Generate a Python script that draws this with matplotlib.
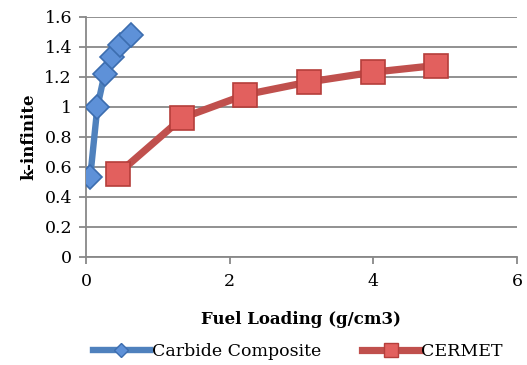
import matplotlib
matplotlib.use("Agg")
import matplotlib.pyplot as plt
from matplotlib.lines import Line2D

carbide_x = [0.06, 0.16, 0.26, 0.37, 0.48, 0.63]
carbide_y = [0.53, 1.00, 1.22, 1.33, 1.41, 1.48]
cermet_x = [0.44, 1.34, 2.22, 3.10, 3.99, 4.87]
cermet_y = [0.55, 0.925, 1.08, 1.165, 1.23, 1.275]
x_ticks = [0, 2, 4, 6]
y_ticks = [0, 0.2, 0.4, 0.6, 0.8, 1, 1.2, 1.4, 1.6]
y_tick_labels = ["0", "0.2", "0.4", "0.6", "0.8", "1", "1.2", "1.4", "1.6"]

plt.rcParams['font.family'] = ['DejaVu Serif']

fig = plt.figure(figsize=(5.27, 3.65), dpi=100)
ax = fig.add_axes([0.163, 0.297, 0.818, 0.657])

blue_line = '#4F81BD'
blue_face = '#5E91D8'
blue_edge = '#3C6DAF'
red_line = '#C0504D'
red_face = '#E2605E'
red_edge = '#B53E3B'

ax.plot(cermet_x, cermet_y, color=red_line, lw=5.2, solid_capstyle='round',
        marker='s', ms=17, mfc=red_face, mec=red_edge, mew=1.2, zorder=3,
        label='CERMET')
ax.plot(carbide_x, carbide_y, color=blue_line, lw=4.6, solid_capstyle='round',
        marker='D', ms=12, mfc=blue_face, mec=blue_edge, mew=1.2, zorder=4,
        label='Carbide Composite')

ax.set_xlim(0, 6)
ax.set_ylim(0, 1.6)
ax.set_xticks(x_ticks)
ax.set_yticks(y_ticks)
ax.set_yticklabels(y_tick_labels)
ax.grid(axis='y', color='#888888', lw=1.3)
ax.set_axisbelow(True)
for s in ['top', 'right']:
    ax.spines[s].set_visible(False)
for s in ['left', 'bottom']:
    ax.spines[s].set_color('#888888')
    ax.spines[s].set_linewidth(1.3)
ax.tick_params(axis='both', colors='#888888', length=5, width=1.3,
               labelsize=12.5, labelcolor='black', direction='out')
ax.tick_params(axis='x', pad=7)
ax.tick_params(axis='y', pad=5)

ax.set_xlabel('Fuel Loading (g/cm3)', fontsize=12, fontweight='bold', labelpad=15)
ax.set_ylabel('k-infinite', fontsize=12, fontweight='bold', labelpad=5)

handles = [
    Line2D([], [], color=blue_line, lw=4.6, marker='D', ms=7, mfc=blue_face, mec=blue_edge),
    Line2D([], [], color=red_line, lw=5.2, marker='s', ms=10, mfc=red_face, mec=red_edge),
]
fig.legend(handles, ['Carbide Composite', 'CERMET'], loc='center',
           bbox_to_anchor=(0.565, 0.036), ncol=2, frameon=False, fontsize=12.5,
           handlelength=3.3, handletextpad=0.1, columnspacing=2.4)

fig.savefig('out.png', dpi=100)
